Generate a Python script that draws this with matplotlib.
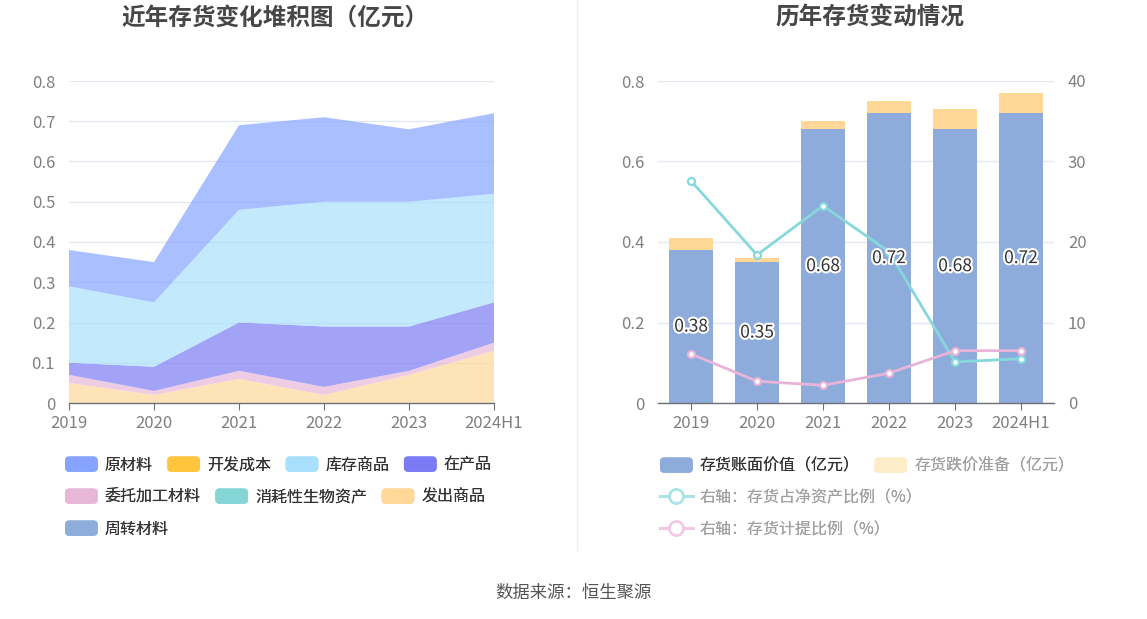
import matplotlib
matplotlib.use("Agg")
import matplotlib.pyplot as plt
import matplotlib.patheffects as pe
from matplotlib.patches import Patch, FancyBboxPatch
from matplotlib.lines import Line2D
from matplotlib.legend_handler import HandlerPatch
import numpy as np

plt.rcParams["font.family"] = ["Noto Sans CJK SC", "DejaVu Sans"]

years = ["2019", "2020", "2021", "2022", "2023", "2024H1"]

# left chart: inventory composition (亿元)
raw_material = [0.09, 0.10, 0.21, 0.21, 0.18, 0.20]
dev_cost = [0, 0, 0, 0, 0, 0]
stock_goods = [0.19, 0.16, 0.28, 0.31, 0.31, 0.27]
wip = [0.03, 0.06, 0.12, 0.15, 0.11, 0.10]
consigned = [0.02, 0.01, 0.02, 0.02, 0.01, 0.02]
bio_assets = [0, 0, 0, 0, 0, 0]
shipped = [0.05, 0.02, 0.06, 0.02, 0.07, 0.13]
turnover = [0, 0, 0, 0, 0, 0]

# right chart
book_value = [0.38, 0.35, 0.68, 0.72, 0.68, 0.72]
reserve = [0.03, 0.01, 0.02, 0.03, 0.05, 0.05]
ratio_net_assets = [27.6, 18.4, 24.5, 18.8, 5.1, 5.5]
ratio_provision = [6.1, 2.7, 2.2, 3.7, 6.5, 6.5]

C_RAW, C_DEV, C_STOCK, C_WIP = "#86a4ff", "#ffc53d", "#a8e0fb", "#7b7bf5"
C_CONS, C_BIO, C_SHIP, C_TURN = "#e8b7d8", "#84d6d6", "#ffd89a", "#8daddb"
C_BOOK, C_RES = "#8dacdb", "#ffd898"
C_TEAL, C_PINK = "#86d8da", "#e8b4d8"
TICK_C = "#808080"
GRID_C = "#e3e8f3"
AXIS_C = "#6e7079"


class RoundHandler(HandlerPatch):
    def create_artists(self, legend, orig_handle, xdescent, ydescent,
                       width, height, fontsize, trans):
        p = FancyBboxPatch((-xdescent, -ydescent), width, height,
                           boxstyle="round,pad=0,rounding_size=%f" % (height * 0.28),
                           facecolor=orig_handle.get_facecolor(),
                           edgecolor="none", transform=trans)
        return [p]


def style_axis(ax):
    for s in ["top", "right", "left"]:
        ax.spines[s].set_visible(False)
    ax.spines["bottom"].set_color(AXIS_C)
    ax.spines["bottom"].set_linewidth(1)
    ax.tick_params(axis="y", length=0, labelsize=12, labelcolor=TICK_C, pad=10)
    ax.tick_params(axis="x", length=5, color=AXIS_C, labelsize=12,
                   labelcolor=TICK_C, pad=4)
    ax.yaxis.grid(True, color=GRID_C, lw=1)
    ax.set_axisbelow(True)


fig = plt.figure(figsize=(11.47, 6.19), dpi=100)

# ---- left: stacked area ----
ax1 = fig.add_axes([69 / 1147, 1 - 403 / 619, 425 / 1147, 322 / 619])
x = np.arange(len(years))
layers = [turnover, shipped, bio_assets, consigned, wip, stock_goods, dev_cost, raw_material]
colors = [C_TURN, C_SHIP, C_BIO, C_CONS, C_WIP, C_STOCK, C_DEV, C_RAW]
ax1.stackplot(x, *layers, colors=colors, alpha=0.7, linewidth=0)
ax1.set_xlim(0, len(years) - 1)
ax1.set_ylim(0, 0.8)
ax1.set_xticks(x)
ax1.set_xticklabels(years)
yt = np.arange(0, 0.81, 0.1)
ax1.set_yticks(yt)
ax1.set_yticklabels(["0" if v == 0 else f"{v:.1f}" for v in yt])
style_axis(ax1)

# ---- right: bars + lines ----
ax2 = fig.add_axes([658 / 1147, 1 - 403 / 619, 396 / 1147, 322 / 619])
ax2.bar(x, book_value, width=0.68, color=C_BOOK, zorder=2)
ax2.bar(x, reserve, bottom=book_value, width=0.68, color=C_RES, zorder=2)
ax2.set_xlim(-0.5, len(years) - 0.5)
ax2.set_ylim(0, 0.8)
ax2.set_xticks(x)
ax2.set_xticklabels(years)
yt2 = np.arange(0, 0.81, 0.2)
ax2.set_yticks(yt2)
ax2.set_yticklabels(["0" if v == 0 else f"{v:.1f}" for v in yt2])
style_axis(ax2)

ax3 = ax2.twinx()
ax3.set_ylim(0, 40)
ax3.set_yticks([0, 10, 20, 30, 40])
for s in ax3.spines.values():
    s.set_visible(False)
ax3.tick_params(axis="y", length=0, labelsize=12, labelcolor=TICK_C, pad=10)
ax3.plot(x, ratio_net_assets, color=C_TEAL, lw=2, marker="o", ms=5,
         mfc="white", mec=C_TEAL, mew=1.6, zorder=3)
ax3.plot(x, ratio_provision, color=C_PINK, lw=2, marker="o", ms=5,
         mfc="white", mec=C_PINK, mew=1.6, zorder=3)

# bar labels drawn above lines
for xi, v in zip(x, book_value):
    ax3.text(xi, v / 2 * 50, f"{v:.2f}", ha="center", va="center", fontsize=12.5,
             color="#333333", zorder=5,
             path_effects=[pe.withStroke(linewidth=3, foreground="white")])

# ---- titles, divider, source ----
fig.text(275 / 1147, 1 - 18 / 619, "近年存货变化堆积图（亿元）", ha="center", va="center",
         fontsize=17, fontweight="bold", color="#464646")
fig.text(870 / 1147, 1 - 18 / 619, "历年存货变动情况", ha="center", va="center",
         fontsize=17, fontweight="bold", color="#464646")
fig.add_artist(Line2D([577 / 1147, 577 / 1147], [1 - 550 / 619, 1], color="#eeeeee", lw=1))
fig.text(573 / 1147, 1 - 593 / 619, "数据来源：恒生聚源", ha="center", va="center",
         fontsize=12.5, color="#555555")

# ---- legends ----
leg_kw = dict(frameon=False, fontsize=11.5, handlelength=2.05, handleheight=1.1,
              handletextpad=0.45, columnspacing=0.9, borderpad=0, borderaxespad=0,
              loc="center left", handler_map={Patch: RoundHandler()})

left_rows = [
    [("原材料", C_RAW), ("开发成本", C_DEV), ("库存商品", C_STOCK), ("在产品", C_WIP)],
    [("委托加工材料", C_CONS), ("消耗性生物资产", C_BIO), ("发出商品", C_SHIP)],
    [("周转材料", C_TURN)],
]
row_y = [465, 497, 529]
for row, yy in zip(left_rows, row_y):
    hs = [Patch(facecolor=c) for _, c in row]
    lg = fig.legend(hs, [n for n, _ in row], ncol=len(row),
                    bbox_to_anchor=(65 / 1147, 1 - yy / 619), labelcolor="#333333", **leg_kw)
    fig.add_artist(lg)

lg = fig.legend([Patch(facecolor=C_BOOK), Patch(facecolor="#ffecc9")],
                ["存货账面价值（亿元）", "存货跌价准备（亿元）"], ncol=2,
                bbox_to_anchor=(660 / 1147, 1 - 466 / 619), **leg_kw)
lg.get_texts()[0].set_color("#333333")
lg.get_texts()[1].set_color("#a0a0a0")
fig.add_artist(lg)

line_rows = [("右轴：存货占净资产比例（%）", "#a8e3e5", 498),
             ("右轴：存货计提比例（%）", "#f0c8e3", 530)]
for name, c, yy in line_rows:
    h = Line2D([], [], color=c, lw=2, marker="o", ms=10, mfc="white", mec=c, mew=1.8)
    lg = fig.legend([h], [name], bbox_to_anchor=(660 / 1147, 1 - yy / 619),
                    labelcolor="#a0a0a0", **leg_kw)
    fig.add_artist(lg)

fig.savefig("out.png", dpi=100)
